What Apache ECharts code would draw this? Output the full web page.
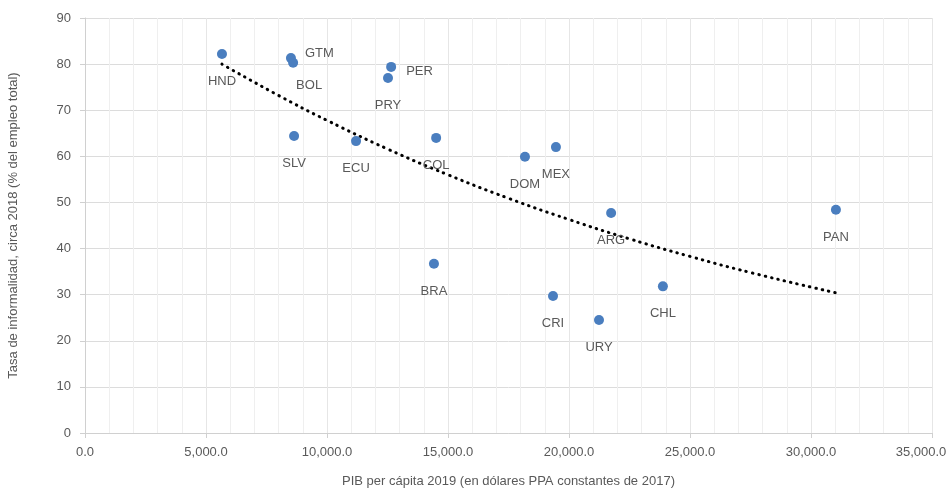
<!DOCTYPE html>
<html>
<head>
<meta charset="utf-8">
<script src="https://cdn.jsdelivr.net/npm/echarts@6/dist/echarts.min.js"></script>
<style>
  html, body { margin: 0; padding: 0; background: #fff; }
  #main { width: 949px; height: 488px; }
</style>
</head>
<body>
<div id="main"></div>
<script>
// datos
var paises = ['HND','GTM','BOL','PER','PRY','SLV','ECU','COL','DOM','MEX','ARG','PAN','BRA','CRI','URY','CHL'];
var pibPc = [5660, 8510, 8600, 12650, 12520, 8640, 11200, 14510, 18180, 19460, 21740, 31030, 14420, 19340, 21240, 23880];
var informalidad = [82.2, 81.3, 80.3, 79.4, 77.0, 64.4, 63.3, 64.0, 59.9, 62.0, 47.7, 48.4, 36.7, 29.7, 24.5, 31.8];
// linea de tendencia
var tendX = [5660, 8000, 10000, 12500, 15000, 17500, 20000, 22500, 25000, 27500, 31030];
var tendY = [80.0, 73.2, 67.8, 61.6, 56.0, 50.9, 46.3, 42.1, 38.3, 34.8, 30.4];

var gris = '#595959';
var fuente = '"Liberation Sans", Arial, sans-serif';

// posicion de las etiquetas
var etiq = {
    GTM: { position: 'right', distance: 9, offset: [0, -5] },
    PER: { position: 'right', distance: 10, offset: [0, 5] },
    BOL: { position: 'bottom', distance: 15, offset: [16, -4] }
};

function fmtMiles(v) {
    var s = Math.round(v).toString().replace(/\B(?=(\d{3})+(?!\d))/g, ',');
    return s + '.0';
}

var puntos = paises.map(function (p, i) {
    var d = { value: [pibPc[i], informalidad[i]], name: p };
    if (etiq[p]) d.label = etiq[p];
    return d;
});

var tendencia = tendX.map(function (x, i) { return [x, tendY[i]]; });

var myChart = echarts.init(document.getElementById('main'));
var option = {
    animation: false,
    textStyle: { fontFamily: fuente },
    grid: { left: 85, right: 17, top: 18, bottom: 55, outerBoundsMode: 'none', containLabel: false },
    xAxis: {
        type: 'value',
        min: 0,
        max: 35000,
        interval: 5000,
        name: 'PIB per cápita 2019 (en dólares PPA constantes de 2017)',
        nameLocation: 'middle',
        nameGap: 42,
        nameTextStyle: { color: gris, fontSize: 13, fontFamily: fuente },
        axisLine: { show: true, lineStyle: { color: '#d0d0d0', width: 1 } },
        axisTick: { show: true, length: 5, lineStyle: { color: '#d0d0d0' } },
        axisLabel: {
            color: gris, fontSize: 13, margin: 13,
            formatter: function (v) {
                // la ultima etiqueta se corre a la izquierda para que quepa
                return v >= 35000 ? '{ult|' + fmtMiles(v) + '}' : fmtMiles(v);
            },
            rich: { ult: { color: gris, fontSize: 13, fontFamily: fuente, padding: [0, 22, 0, 0] } }
        },
        splitLine: { show: true, lineStyle: { color: '#e6e6e6' } },
        minorTick: { show: false, splitNumber: 5 },
        minorSplitLine: { show: true, lineStyle: { color: '#efefef' } }
    },
    yAxis: {
        type: 'value',
        min: 0,
        max: 90,
        interval: 10,
        name: 'Tasa de informalidad, circa 2018 (% del empleo total)',
        nameLocation: 'middle',
        nameGap: 65,
        nameRotate: 90,
        nameTextStyle: { color: gris, fontSize: 13, fontFamily: fuente },
        axisLine: { show: true, lineStyle: { color: '#d0d0d0', width: 1 } },
        axisTick: { show: true, length: 5, lineStyle: { color: '#d0d0d0' } },
        axisLabel: { color: gris, fontSize: 13, margin: 14 },
        splitLine: { show: true, lineStyle: { color: '#dcdcdc' } }
    },
    series: [
        {
            name: 'tendencia',
            type: 'line',
            data: tendencia,
            smooth: true,
            symbol: 'none',
            silent: true,
            z: 3,
            lineStyle: { color: '#000', width: 3, type: [0.5, 6], cap: 'round' }
        },
        {
            name: 'paises',
            type: 'scatter',
            data: puntos,
            symbolSize: 10,
            z: 4,
            itemStyle: { color: '#4a7ebf', opacity: 1 },
            label: {
                show: true,
                position: 'bottom',
                distance: 16,
                color: gris,
                fontSize: 13,
                fontFamily: fuente,
                formatter: function (p) { return p.name; }
            }
        }
    ]
};
myChart.setOption(option);
</script>
</body>
</html>
